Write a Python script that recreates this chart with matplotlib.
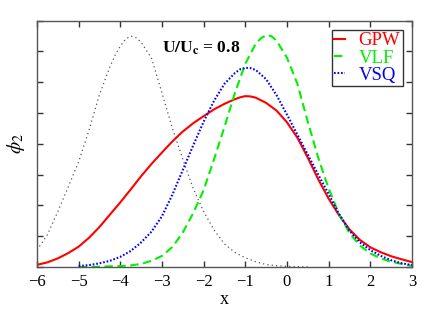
import matplotlib
matplotlib.use("Agg")
from matplotlib import pyplot as plt

plt.rcParams['font.family'] = ['Liberation Serif', 'DejaVu Serif']
plt.rcParams['mathtext.fontset'] = 'stix'

# values (y in tick units, 8 ticks up to the top)
x_q = [-6, -5.75, -5.5, -5.25, -5, -4.75, -4.5, -4.25, -4.125, -4, -3.875,
       -3.75, -3.625, -3.5, -3.25, -3, -2.75, -2.5, -2.25, -2, -1.75, -1.5,
       -1.25, -1, -0.75, -0.5, -0.25, 0, 0.25, 0.5]
phi_q = [0.55, 1.05, 1.8, 2.6, 3.42, 4.45, 5.6, 6.5, 6.88, 7.18, 7.4,
         7.5, 7.45, 7.3, 6.78, 5.65, 4.5, 3.5, 2.55, 1.8, 1.2, 0.75,
         0.47, 0.3, 0.17, 0.08, 0.04, 0.02, 0.01, 0.0]

x_gpw = [-6, -5.75, -5.5, -5.25, -5, -4.75, -4.5, -4.25, -4, -3.75, -3.5,
         -3.25, -3, -2.75, -2.5, -2.25, -2, -1.75, -1.5, -1.25, -1.125, -1,
         -0.875, -0.75, -0.5, -0.25, 0, 0.25, 0.5, 0.75, 1, 1.25, 1.5, 1.75,
         2, 2.25, 2.5, 2.75, 3]
phi_gpw = [0.07, 0.15, 0.28, 0.45, 0.66, 0.95, 1.3, 1.7, 2.1, 2.52, 2.95,
           3.35, 3.72, 4.08, 4.4, 4.67, 4.9, 5.12, 5.3, 5.45, 5.51, 5.55,
           5.54, 5.5, 5.33, 5.08, 4.7, 4.2, 3.55, 2.85, 2.22, 1.68, 1.22,
           0.88, 0.64, 0.48, 0.35, 0.25, 0.16]

x_vlf = [-5, -4.75, -4.5, -4.25, -4, -3.75, -3.5, -3.25, -3, -2.75, -2.5,
         -2.25, -2, -1.75, -1.5, -1.25, -1, -0.75, -0.625, -0.5, -0.375,
         -0.25, 0, 0.25, 0.5, 0.75, 1, 1.25, 1.5, 1.75, 2, 2.25, 2.5, 2.75, 3]
phi_vlf = [0.0, 0.0, 0.01, 0.02, 0.03, 0.05, 0.1, 0.2, 0.36, 0.65, 1.12,
           1.75, 2.5, 3.5, 4.55, 5.65, 6.6, 7.25, 7.43, 7.53, 7.5,
           7.35, 6.8, 5.95, 4.72, 3.55, 2.55, 1.72, 1.1, 0.7, 0.44, 0.28,
           0.17, 0.1, 0.04]

x_vsq = [-5, -4.75, -4.5, -4.25, -4, -3.75, -3.5, -3.25, -3, -2.75, -2.5,
         -2.25, -2, -1.75, -1.5, -1.25, -1.125, -1, -0.875, -0.75, -0.5,
         -0.25, 0, 0.25, 0.5, 0.75, 1, 1.25, 1.5, 1.75, 2, 2.25, 2.5, 2.75, 3]
phi_vsq = [0.03, 0.06, 0.12, 0.2, 0.33, 0.52, 0.8, 1.15, 1.65, 2.35, 3.15,
           3.95, 4.72, 5.4, 5.95, 6.3, 6.42, 6.47, 6.46, 6.4, 6.1,
           5.58, 4.95, 4.3, 3.65, 3.0, 2.37, 1.72, 1.18, 0.8, 0.55, 0.36,
           0.22, 0.12, 0.06]

fig = plt.figure(figsize=(4.42, 3.09), dpi=100)
ax = fig.add_axes([0.0837, 0.136, 0.8483, 0.797])

ax.plot(x_q, phi_q, color='#555555', linestyle=(0, (1, 2.5)), linewidth=0.9)
ax.plot(x_gpw, phi_gpw, color='#ff0000', linewidth=1.5, label='GPW')
ax.plot(x_vlf, phi_vlf, color='#00f000', linestyle=(0, (4, 2.2)),
        linewidth=1.5, label='VLF')
ax.plot(x_vsq, phi_vsq, color='#0000ff', linestyle=(0, (0.8, 0.9)),
        linewidth=1.5, label='VSQ')

ax.set_xlim(-6, 3)
ax.set_ylim(0, 8)
ax.set_xticks(range(-6, 4))
ax.set_yticks(range(0, 9))
ax.set_yticklabels([])
ax.tick_params(direction='in', top=True, right=True, length=4, width=1,
               labelsize=12, colors='#333333', pad=5)
ax.tick_params(axis='x', labelcolor='black')
for s in ax.spines.values():
    s.set_color('#555555')
    s.set_linewidth(1)

ax.set_xlabel('x', fontsize=13, labelpad=1)
ax.set_ylabel(r'$\phi_2$', fontsize=14, labelpad=2)

ax.text(-2.05, 7.1, r'$\mathbf{U/U_c}$ = 0.8', fontsize=12.5,
        fontweight='bold', ha='center', va='center')

leg = ax.legend(loc='upper right', fontsize=13.5, handlelength=0.6,
                handletextpad=0.7, borderpad=0.12, labelspacing=0.0,
                fancybox=False, borderaxespad=0.5, framealpha=1)
leg.get_frame().set_edgecolor('#333333')
leg.get_frame().set_linewidth(1)
for t, c in zip(leg.get_texts(), ['#ff0000', '#00f000', '#0000ff']):
    t.set_color(c)

fig.savefig('out.png', dpi=100)
